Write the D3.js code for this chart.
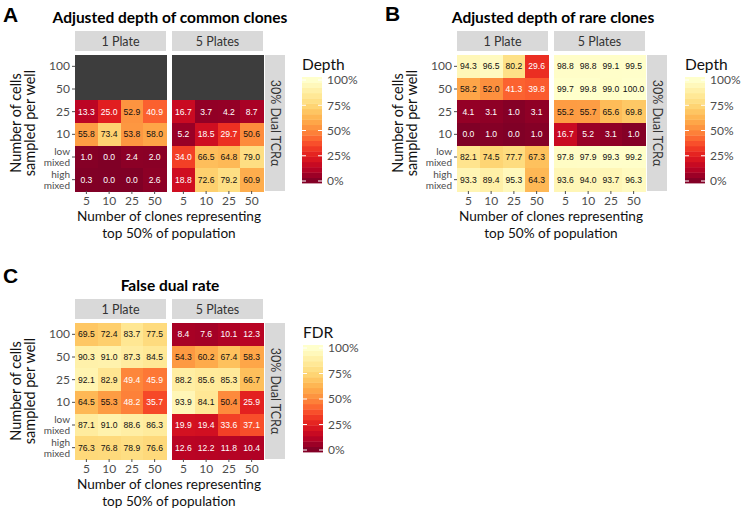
<!DOCTYPE html>
<html><head><meta charset="utf-8">
<script src="https://cdn.jsdelivr.net/npm/d3@7"></script>
<style>body{margin:0;background:#fff}</style>
</head><body><svg id="c" width="743" height="511"></svg>
<script>
// ---- data ----
const colLabels = ["5", "10", "25", "50"];
const rowLabels = ["100", "50", "25", "10", "low mixed", "high mixed"];
const facetLabels = ["1 Plate", "5 Plates"];
const rightStripLabel = "30% Dual TCRα";
const legendBreaks = [0, 25, 50, 75, 100];

// rows: 100, 50, 25, 10, low mixed, high mixed ; cols: 5, 10, 25, 50
const commonOnePlate = [
  [null, null, null, null],
  [null, null, null, null],
  [13.3, 25.0, 52.9, 40.9],
  [55.8, 73.4, 53.8, 58.0],
  [1.0, 0.0, 2.4, 2.0],
  [0.3, 0.0, 0.0, 2.6]
];
const commonFivePlates = [
  [null, null, null, null],
  [null, null, null, null],
  [16.7, 3.7, 4.2, 8.7],
  [5.2, 18.5, 29.7, 50.6],
  [34.0, 66.5, 64.8, 79.0],
  [18.8, 72.6, 79.2, 60.9]
];
const rareOnePlate = [
  [94.3, 96.5, 80.2, 29.6],
  [58.2, 52.0, 41.3, 39.8],
  [4.1, 3.1, 1.0, 3.1],
  [0.0, 1.0, 0.0, 1.0],
  [82.1, 74.5, 77.7, 67.3],
  [93.3, 89.4, 95.3, 64.3]
];
const rareFivePlates = [
  [98.8, 98.8, 99.1, 99.5],
  [99.7, 99.8, 99.0, 100.0],
  [55.2, 55.7, 65.6, 69.8],
  [16.7, 5.2, 3.1, 1.0],
  [97.8, 97.9, 99.3, 99.2],
  [93.6, 94.0, 93.7, 96.3]
];
const fdrOnePlate = [
  [69.5, 72.4, 83.7, 77.5],
  [90.3, 91.0, 87.3, 84.5],
  [92.1, 82.9, 49.4, 45.9],
  [64.5, 55.3, 48.2, 35.7],
  [87.1, 91.0, 88.6, 86.3],
  [76.3, 76.8, 78.9, 76.6]
];
const fdrFivePlates = [
  [8.4, 7.6, 10.1, 12.3],
  [54.3, 60.2, 67.4, 58.3],
  [88.2, 85.6, 85.3, 66.7],
  [93.9, 84.1, 50.4, 25.9],
  [19.9, 19.4, 33.6, 37.1],
  [12.6, 12.2, 11.8, 10.4]
];

// ---- drawing ----
const svg = d3.select("#c");
const FONT = "Lato, 'Open Sans', sans-serif";
const color = d3.scaleSequential(t => d3.interpolateYlOrRd(1 - t)).domain([0, 100]);
const NA_COLOR = "#3d3d3d";

function drawChart(cfg) {
  const g = svg.append("g");
  g.append("text").attr("x", cfg.letterX).attr("y", cfg.letterY)
    .attr("font-family", "'Liberation Sans', Arial, sans-serif").attr("font-weight", "bold")
    .attr("font-size", 21).attr("fill", "#000").text(cfg.letter);
  g.append("text").attr("x", cfg.titleX).attr("y", cfg.titleY).attr("text-anchor", "middle")
    .attr("font-family", FONT).attr("font-weight", "bold").attr("font-size", 15.5)
    .attr("fill", "#000").text(cfg.title);

  const y = d3.scaleBand().domain(rowLabels).range([cfg.top, cfg.top + cfg.h]);

  [cfg.one, cfg.five].forEach((vals, fi) => {
    const x0 = cfg.px[fi];
    const x = d3.scaleBand().domain(colLabels).range([x0, x0 + cfg.pw]);
    const cells = [];
    vals.forEach((row, ri) => row.forEach((v, ci) => cells.push({r: rowLabels[ri], c: colLabels[ci], v})));
    g.append("rect").attr("x", x0).attr("y", cfg.stripTop).attr("width", cfg.pw)
      .attr("height", cfg.stripH).attr("fill", "#d9d9d9");
    g.append("text").attr("x", x0 + cfg.pw / 2).attr("y", cfg.stripTop + cfg.stripH / 2 + 4.5)
      .attr("text-anchor", "middle").attr("font-family", FONT).attr("font-size", 12.5)
      .attr("fill", "#333").text(facetLabels[fi]);
    g.selectAll(null).data(cells).enter().append("rect")
      .attr("x", d => x(d.c)).attr("y", d => y(d.r))
      .attr("width", x.bandwidth() + 0.5).attr("height", y.bandwidth() + 0.5)
      .attr("shape-rendering", "crispEdges")
      .attr("fill", d => d.v == null ? NA_COLOR : color(d.v));
    g.selectAll(null).data(cells.filter(d => d.v != null)).enter().append("text")
      .attr("x", d => x(d.c) + x.bandwidth() / 2).attr("y", d => y(d.r) + y.bandwidth() / 2 + 3)
      .attr("text-anchor", "middle").attr("font-family", "'Liberation Sans', Arial, sans-serif")
      .attr("font-size", 8.6).attr("fill", d => d.v >= 50 ? "#111" : "#fff")
      .text(d => d.v.toFixed(1));
    const ax = g.append("g").attr("transform", `translate(0,${cfg.top + cfg.h})`)
      .call(d3.axisBottom(x).tickSize(3).tickPadding(2));
    ax.select(".domain").remove();
    ax.selectAll(".tick line").attr("stroke", "#4d4d4d");
    ax.selectAll(".tick text").attr("font-family", FONT).attr("font-size", 12).attr("fill", "#4d4d4d");
  });

  const rx = cfg.rightX;
  g.append("rect").attr("x", rx).attr("y", cfg.top).attr("width", 20).attr("height", cfg.h).attr("fill", "#d9d9d9");
  g.append("text").attr("transform", `translate(${rx + 6},${cfg.top + cfg.h / 2}) rotate(90)`)
    .attr("text-anchor", "middle").attr("font-family", FONT).attr("font-size", 12.5)
    .attr("fill", "#333").text(rightStripLabel);

  const ay = g.append("g").attr("transform", `translate(${cfg.px[0]},0)`)
    .call(d3.axisLeft(y).tickSize(3).tickPadding(2));
  ay.select(".domain").remove();
  ay.selectAll(".tick line").attr("stroke", "#4d4d4d");
  ay.selectAll(".tick text").attr("font-family", FONT).attr("font-size", 12).attr("fill", "#4d4d4d")
    .each(function(d) {
      const parts = d.split(" ");
      if (parts.length > 1) {
        const t = d3.select(this).text("").attr("font-size", 10).attr("dy", null);
        t.append("tspan").attr("x", -5).attr("y", -2).text(parts[0]);
        t.append("tspan").attr("x", -5).attr("y", 9).text(parts[1]);
      }
    });

  const xc = (cfg.px[0] + cfg.px[1] + cfg.pw) / 2;
  const xt = g.append("g").attr("font-family", FONT).attr("font-size", 13.6).attr("fill", "#111")
    .attr("text-anchor", "middle");
  xt.append("text").attr("x", xc).attr("y", cfg.xTitleY).text("Number of clones representing");
  xt.append("text").attr("x", xc).attr("y", cfg.xTitleY + 16.5).text("top 50% of population");
  const yc = cfg.top + cfg.h / 2;
  const yt = g.append("text").attr("text-anchor", "middle").attr("font-family", FONT)
    .attr("font-size", 14.5).attr("fill", "#111")
    .attr("transform", `translate(${cfg.yTitleX},${yc}) rotate(-90)`);
  yt.append("tspan").attr("x", 0).attr("y", 0).text("Number of cells");
  yt.append("tspan").attr("x", 0).attr("y", 14).text("sampled per well");

  const L = cfg.legend;
  g.append("text").attr("x", L.x).attr("y", L.titleY).attr("font-family", FONT)
    .attr("font-size", 15.5).attr("fill", "#111").text(L.title);
  const ls = d3.scaleLinear().domain([0, 100]).range([L.tick0, L.tick100]);
  const barTop = L.tick100 - 3, barBot = L.tick0 + 2;
  const nb = 20;
  const bh = (barBot - barTop) / nb;
  for (let i = 0; i < nb; i++) {
    const yy = barBot - (i + 1) * bh;
    const vm = Math.max(0, Math.min(100, ls.invert(yy + bh / 2)));
    g.append("rect").attr("x", L.x).attr("y", yy).attr("width", 20).attr("height", bh + 0.4)
      .attr("fill", color(vm));
  }
  legendBreaks.forEach(b => {
    g.append("line").attr("x1", L.x).attr("x2", L.x + 4).attr("y1", ls(b)).attr("y2", ls(b))
      .attr("stroke", "#fff").attr("stroke-width", 1);
    g.append("line").attr("x1", L.x + 16).attr("x2", L.x + 20).attr("y1", ls(b)).attr("y2", ls(b))
      .attr("stroke", "#fff").attr("stroke-width", 1);
  });
  const al = g.append("g").attr("transform", `translate(${L.x + 20},0)`)
    .call(d3.axisRight(ls).tickValues(legendBreaks).tickSize(0).tickPadding(5).tickFormat(d => d + "%"));
  al.select(".domain").remove();
  al.selectAll(".tick text").attr("font-family", FONT).attr("font-size", 12).attr("fill", "#4d4d4d");
}

drawChart({
  letter: "A", letterX: 3, letterY: 22,
  title: "Adjusted depth of common clones", titleX: 170, titleY: 23,
  one: commonOnePlate, five: commonFivePlates,
  px: [75, 172], pw: 91, top: 55, h: 136, stripTop: 31, stripH: 20, rightX: 265,
  xTitleY: 221, yTitleX: 21,
  legend: {x: 302, title: "Depth", titleY: 70, tick0: 181, tick100: 80}
});
drawChart({
  letter: "B", letterX: 385, letterY: 21,
  title: "Adjusted depth of rare clones", titleX: 553, titleY: 23,
  one: rareOnePlate, five: rareFivePlates,
  px: [457, 554], pw: 91, top: 55, h: 136, stripTop: 31, stripH: 20, rightX: 647,
  xTitleY: 221, yTitleX: 403,
  legend: {x: 685, title: "Depth", titleY: 70, tick0: 181, tick100: 80}
});
drawChart({
  letter: "C", letterX: 3, letterY: 283,
  title: "False dual rate", titleX: 170, titleY: 291,
  one: fdrOnePlate, five: fdrFivePlates,
  px: [75, 172], pw: 91, top: 323, h: 136, stripTop: 299, stripH: 20, rightX: 265,
  xTitleY: 489, yTitleX: 21,
  legend: {x: 303, title: "FDR", titleY: 338, tick0: 450, tick100: 348}
});
</script></body></html>
